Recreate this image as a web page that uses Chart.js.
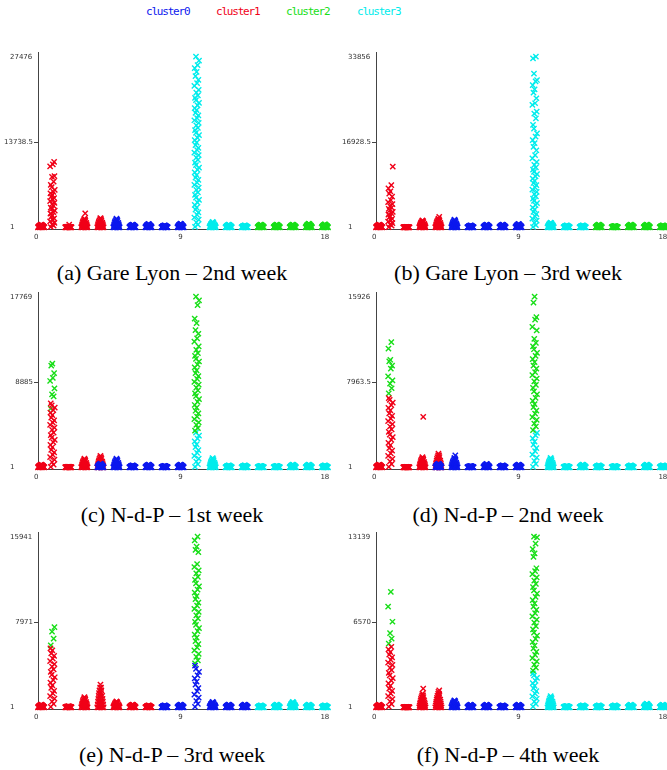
<!DOCTYPE html>
<html><head><meta charset="utf-8">
<script src="https://cdn.jsdelivr.net/npm/chart.js@4.4.0/dist/chart.umd.min.js"></script>
<style>
html,body{margin:0;padding:0;background:#fff;width:667px;height:770px;overflow:hidden;position:relative}
canvas.pc{position:absolute}
.cap{position:absolute;font-family:"Liberation Serif","Times New Roman",serif;font-size:22px;line-height:24px;color:#000;white-space:nowrap;transform:translateX(-50%)}
.lg{position:absolute;top:5px;font-family:"DejaVu Sans Mono",monospace;font-size:11px;letter-spacing:-1.2px;line-height:14px;white-space:nowrap}
</style></head><body>
<script>
// ---------- shared data ----------
const groupX = [0.3,1,2,3,4,5,6,7,8,9,10,11,12,13,14,15,16,17,18];
const clusterNames = ['cluster0','cluster1','cluster2','cluster3'];
const clusterColors = ['rgb(12,24,238)','rgb(240,0,24)','rgb(24,222,24)','rgb(0,236,236)'];
const xTickLabels = [0, 9, 18];
const captions = ['(a) Gare Lyon – 2nd week','(b) Gare Lyon – 3rd week','(c) N-d-P – 1st week','(d) N-d-P – 2nd week','(e) N-d-P – 3rd week','(f) N-d-P – 4th week'];

// ---------- (a) Gare Lyon 2nd week ----------
const yTicksA = [1, 13738.5, 27476];
const clustersA = [1,1,1,1,1,0,0,0,0,0,3,3,3,3,2,2,2,2,2];
const humpsA = [430,0,100,1400,1500,1400,430,540,320,600,0,860,430,320,430,430,430,600,480];
const spikeA1 = [50,260,470,700,960,1180,1430,1690,1920,2210,2440,2690,2960,3180,3450,3720,3940,4210,4460,4720,4950,5230,5460,5700,6020,6480,6830,7340,8120,8250,9810,10130,10520];
const spikeA10 = [60,420,790,1230,1580,2010,2390,2830,3180,3620,3990,4430,4790,5240,5610,6020,6380,6840,7190,7630,8010,8420,8830,9240,9610,10030,10420,10860,11210,11640,12020,12450,12790,13240,13620,14030,14410,14860,15220,15650,16010,16430,16820,17240,17590,18030,18420,18870,19210,19640,20050,20480,20830,21260,21690,22140,22760,23210,23740,24330,25020,25640,26120,26830,27476];
const extrasA = [[3,1,2250],[2,1,450]];

// ---------- (b) Gare Lyon 3rd week ----------
const yTicksB = [1, 16928.5, 33856];
const clustersB = [1,1,1,1,1,0,0,0,0,0,3,3,3,3,2,2,2,2,2];
const humpsB = [530,0,70,1390,1720,1520,400,530,530,660,0,930,400,400,530,260,530,530,400];
const spikeB1 = [50,310,560,840,1110,1390,1680,1960,2230,2510,2790,3080,3360,3640,3910,4190,4580,4990,5410,6080,6690,7120,7710,8380,12020];
const spikeB10 = [60,430,880,1310,1720,2190,2620,3080,3490,3930,4380,4820,5260,5710,6130,6580,7020,7470,7910,8360,8790,9230,9680,10120,10570,11010,11460,11890,12380,12960,13680,14310,15290,15980,16710,17320,18010,18620,19580,20310,21630,22580,22940,24290,24620,25610,26730,27390,28210,28940,29230,30480,33510,33856];
const extrasB = [[4,1,2050]];

// ---------- (c) N-d-P 1st week ----------
const yTicksC = [1, 8885, 17769];
const clustersC = [1,1,1,1,1,0,0,0,0,0,3,3,3,3,3,3,3,3,3];
const humpsC = [280,0,50,900,1180,900,210,280,140,280,0,970,210,210,140,140,280,280,210];
const spikeC1red = [50,290,540,810,1060,1290,1560,1810,2090,2340,2610,2860,3090,3360,3610,3890,4140,4410,4660,4890,5180,5440,5690,5960,6210,6440,6660];
const spikeC1green = [6120,7380,7590,8230,8990,9310,9820,10590,10810];
const spikeC10cyan = [50,320,590,910,1190,1510,1790,2110,2390,2710,2990,3310,3620];
const spikeC10green = [3810,4090,4420,4690,5010,5290,5620,5890,6210,6490,6820,7090,7410,7690,8020,8290,8610,8890,9210,9490,9820,10090,10410,10690,11020,11290,11610,11890,12230,12590,13080,13420,13910,14290,15010,15480,16880,17390,17769];
const layersC = [[4,0,380]];

// ---------- (d) N-d-P 2nd week ----------
const yTicksD = [1, 7963.5, 15926];
const clustersD = [1,1,1,1,1,0,0,0,0,0,3,3,3,3,3,3,3,3,3];
const humpsD = [250,0,30,960,1270,870,120,310,190,250,0,870,120,250,190,120,190,250,190];
const spikeD1red = [50,300,560,790,1060,1290,1560,1790,2060,2290,2560,2810,3040,3310,3540,3810,4040,4310,4540,4810,5040,5310,5540,5810,6040,6290,6450];
const spikeD1green = [6910,7380,7810,8120,8480,9210,9490,9890,10040,11080,11690];
const spikeD10cyan = [50,310,590,910,1190,1510,1790,2110,2390,2710,2990,3210];
const spikeD10green = [3480,3810,4090,4420,4690,5010,5290,5620,5890,6210,6490,6820,7090,7410,7690,8020,8290,8610,8890,9210,9490,9820,10090,10410,10690,11020,11290,11620,11980,12790,13110,13790,14020,15380,15926];
const layersD = [[4,0,340]];
const extrasD = [[3,1,4700],[5,0,1120],[5,0,700]];

// ---------- (e) N-d-P 3rd week ----------
const yTicksE = [1, 7971, 15941];
const clustersE = [1,1,1,1,1,1,1,1,0,0,0,0,0,0,3,3,3,3,3];
const humpsE = [250,0,90,960,2120,560,250,190,190,250,0,500,250,250,190,250,500,250,190];
const spikeE1red = [50,310,540,810,1040,1310,1540,1810,2040,2310,2540,2810,3040,3310,3540,3810,4040,4310,4540,4810,5040,5310,5510];
const spikeE1green = [5790,6410,7080,7490];
const spikeE10blue = [50,310,590,910,1190,1510,1790,2110,2390,2710,2990,3310,3590,3890];
const spikeE10green = [4110,4390,4710,4990,5310,5590,5910,6190,6510,6790,7110,7390,7710,7990,8310,8590,8910,9190,9510,9790,10110,10390,10710,10990,11310,11590,11910,12190,12510,12790,13110,13390,14510,14720,15010,15590,15941];

// ---------- (f) N-d-P 4th week ----------
const yTicksF = [1, 6570, 13139];
const clustersF = [1,1,1,1,1,0,0,0,0,0,3,3,3,3,3,3,3,3,3];
const humpsF = [200,0,25,1050,1180,540,200,200,150,200,0,870,100,150,150,150,200,280,200];
const spikeF1red = [50,250,460,640,860,1050,1260,1440,1660,1850,2060,2240,2460,2650,2860,3040,3260,3450,3660,3840,4060,4250,4460,4660];
const spikeF1green = [4910,5290,5710,6590,7760,8890];
const spikeF10cyan = [50,260,440,660,850,1060,1240,1460,1650,1860,2040,2260,2450,2610];
const spikeF10green = [2820,3060,3290,3540,3780,4040,4270,4530,4760,5030,5270,5520,5760,6010,6260,6520,6760,7010,7250,7510,7760,8010,8260,8510,8750,9010,9260,9510,9760,10010,10250,10490,10710,11590,11860,12190,12610,13090,13139];
const extrasF = [[3,1,1440],[4,1,1300]];

// footprint of a dense blob of markers: [x offset, fraction of blob height]
const blobFootprint = [[-0.2,0],[-0.1,0],[0,0],[0.1,0],[0.2,0],[-0.17,0.12],[-0.06,0.12],[0.06,0.12],[0.17,0.12],
  [-0.15,0.25],[-0.05,0.25],[0.05,0.25],[0.15,0.25],[-0.13,0.37],[0,0.37],[0.13,0.37],[-0.11,0.5],[0,0.5],[0.11,0.5],
  [-0.09,0.62],[0.03,0.62],[-0.06,0.75],[0.06,0.75],[-0.02,0.87],[0.04,0.87],[0,1]];
const spikeSpread = [-0.1,0.08,-0.02,0.13,-0.14,0.03,0.11,-0.07,0.0,-0.12,0.06,0.15,-0.04];

const panels = [
  {yTicks:yTicksA, clusters:clustersA, humps:humpsA, spikes:[[1,1,spikeA1],[10,3,spikeA10]], layers:[], extras:extrasA},
  {yTicks:yTicksB, clusters:clustersB, humps:humpsB, spikes:[[1,1,spikeB1],[10,3,spikeB10]], layers:[], extras:extrasB},
  {yTicks:yTicksC, clusters:clustersC, humps:humpsC, spikes:[[1,1,spikeC1red],[1,2,spikeC1green],[10,3,spikeC10cyan],[10,2,spikeC10green]], layers:layersC, extras:[]},
  {yTicks:yTicksD, clusters:clustersD, humps:humpsD, spikes:[[1,1,spikeD1red],[1,2,spikeD1green],[10,3,spikeD10cyan],[10,2,spikeD10green]], layers:layersD, extras:extrasD},
  {yTicks:yTicksE, clusters:clustersE, humps:humpsE, spikes:[[1,1,spikeE1red],[1,2,spikeE1green],[10,0,spikeE10blue],[10,2,spikeE10green]], layers:[], extras:[]},
  {yTicks:yTicksF, clusters:clustersF, humps:humpsF, spikes:[[1,1,spikeF1red],[1,2,spikeF1green],[10,3,spikeF10cyan],[10,2,spikeF10green]], layers:[], extras:extrasF}
];

// ---------- layout ----------
const colLeft = [0, 338];
const rowTop = [41, 281, 521];
const capCenter = [172, 508];
const capTop = [261, 503, 743];
const legendLeft = [146, 216, 286, 357];

clusterNames.forEach((n,i)=>{
  const s=document.createElement('div'); s.className='lg'; s.textContent=n;
  s.style.left=legendLeft[i]+'px'; s.style.color=clusterColors[i]; document.body.appendChild(s);
});

function buildPoints(p){
  const pts=[[],[],[],[]];
  const addBlob=(g,c,h)=>{ blobFootprint.forEach(([dx,f])=>pts[c].push({x:groupX[g]+dx,y:1+f*h})); };
  p.clusters.forEach((c,g)=>{ if(p.humps[g]>0) addBlob(g,c,p.humps[g]); });
  p.layers.forEach(([g,c,h])=>addBlob(g,c,h));
  p.spikes.forEach(([g,c,vals])=>vals.forEach((v,i)=>pts[c].push({x:groupX[g]+spikeSpread[i%spikeSpread.length],y:v})));
  p.extras.forEach(([g,c,v])=>pts[c].push({x:groupX[g]+0.05,y:v}));
  return pts;
}

const labelPlugin = {
  id:'axisText',
  afterDraw(chart, args, opts){
    const ctx=chart.ctx, ya=chart.scales.y, xa=chart.scales.x, ca=chart.chartArea;
    ctx.save();
    ctx.font='7px "DejaVu Sans", sans-serif'; ctx.fillStyle='#333'; ctx.textBaseline='middle';
    opts.yTicks.forEach((v,i)=>{
      const py=ya.getPixelForValue(v);
      if(i===1){
        ctx.textAlign='right'; ctx.fillText(String(v), ca.left-5, py);
        ctx.strokeStyle='#444'; ctx.lineWidth=1; ctx.beginPath();
        ctx.moveTo(ca.left-4, Math.round(py)+0.5); ctx.lineTo(ca.left, Math.round(py)+0.5); ctx.stroke();
      } else { ctx.textAlign='left'; ctx.fillText(String(v), 10, py); }
    });
    ctx.textAlign='center';
    xTickLabels.forEach(v=>ctx.fillText(String(v), xa.getPixelForValue(v), ca.bottom+8));
    ctx.restore();
  }
};

panels.forEach((p,k)=>{
  const col=k%2, row=Math.floor(k/2);
  const cv=document.createElement('canvas'); cv.className='pc';
  cv.width=332; cv.height=200; cv.style.width='332px'; cv.style.height='200px';
  cv.style.left=colLeft[col]+'px'; cv.style.top=rowTop[row]+'px';
  document.body.appendChild(cv);
  const cap=document.createElement('div'); cap.className='cap'; cap.textContent=captions[k];
  cap.style.left=capCenter[col]+'px'; cap.style.top=capTop[row]+'px'; document.body.appendChild(cap);
  const T=p.yTicks[2], R=T-1;
  const pts=buildPoints(p);
  new Chart(cv,{
    type:'scatter',
    data:{datasets:pts.map((d,c)=>({label:clusterNames[c],data:d,pointStyle:'crossRot',pointRadius:3.7,
      borderWidth:1.4,pointBorderColor:clusterColors[c],borderColor:clusterColors[c],backgroundColor:clusterColors[c],showLine:false,clip:8}))},
    options:{
      responsive:false, animation:false, devicePixelRatio:1,
      layout:{padding:{top:11,left:0,right:0,bottom:0}},
      plugins:{legend:{display:false},tooltip:{enabled:false},axisText:{yTicks:p.yTicks}},
      scales:{
        x:{type:'linear',min:0.104,max:18.11,grid:{display:false,drawTicks:false},ticks:{display:false},
           border:{display:true,color:'#444',width:1},afterFit:s=>{s.height=12;}},
        y:{type:'linear',min:1-0.00996*R,max:T+0.02755*R,grid:{display:false,drawTicks:false},ticks:{display:false},
           border:{display:true,color:'#444',width:1},afterFit:s=>{s.width=38;}}
      }
    },
    plugins:[labelPlugin]
  });
});
</script>
</body></html>
